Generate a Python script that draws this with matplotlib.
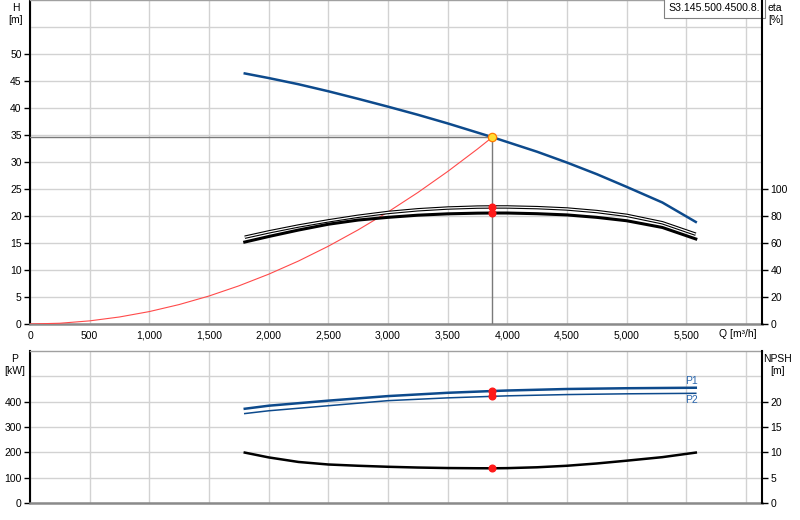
import matplotlib
matplotlib.use('Agg')
import matplotlib.pyplot as plt
from matplotlib.ticker import FuncFormatter, FixedLocator

plt.rcParams['font.family'] = ['Liberation Sans', 'DejaVu Sans']
plt.rcParams['font.size'] = 7.5

# ---------------- data ----------------
q = [1800, 2000, 2250, 2500, 2750, 3000, 3250, 3500, 3750, 3875, 4000, 4250, 4500, 4750, 5000, 5300, 5580]
head = [46.4, 45.55, 44.4, 43.1, 41.7, 40.25, 38.75, 37.15, 35.45, 34.6, 33.7, 31.9, 29.9, 27.75, 25.4, 22.5, 18.9]
eta_upper = [64.3, 68.2, 72.6, 76.4, 79.8, 82.6, 84.6, 85.9, 86.6, 86.7, 86.7, 86.2, 85.2, 83.3, 80.5, 75.0, 66.5]
eta_lower = [60.7, 64.8, 69.6, 73.9, 77.0, 79.0, 80.6, 81.6, 82.1, 82.2, 82.2, 81.7, 80.8, 79.0, 76.5, 71.5, 63.0]
npsh = [9.95, 9.0, 8.1, 7.6, 7.35, 7.15, 7.0, 6.9, 6.86, 6.85, 6.88, 7.05, 7.35, 7.8, 8.35, 9.05, 9.95]

q_p = [1800, 2000, 2500, 3000, 3500, 3875, 4000, 4500, 5000, 5580]
p1 = [372, 384, 404, 422, 435, 442, 444, 450, 453, 455]
p2 = [353, 364, 384, 404, 415, 421, 423, 428, 431, 433]

q_sys = [0, 250, 500, 750, 1000, 1250, 1500, 1750, 2000, 2250, 2500, 2750, 3000, 3250, 3500, 3750, 3875]
h_sys = [0, 0.14, 0.58, 1.30, 2.30, 3.60, 5.18, 7.06, 9.22, 11.66, 14.40, 17.43, 20.74, 24.34, 28.23, 32.40, 34.6]

duty_q = 3875
duty_h = 34.6
duty_eta = [86.7, 82.2]
duty_p = [442, 421]
duty_npsh = 6.85

x_ticks = [0, 500, 1000, 1500, 2000, 2500, 3000, 3500, 4000, 4500, 5000, 5500]
h_ticks = [0, 5, 10, 15, 20, 25, 30, 35, 40, 45, 50]
eta_ticks = [0, 20, 40, 60, 80, 100]
p_ticks = [0, 100, 200, 300, 400]
npsh_ticks = [0, 5, 10, 15, 20]
title_box = "S3.145.500.4500.8."

# ---------------- style ----------------
BLUE = '#0d4a8c'
LBLUE = '#2a66ad'
GRID = '#d2d2d2'
GRAYSP = '#8a8a8a'
XMAX = 6135

fig = plt.figure(figsize=(8, 5.2), dpi=100)
W, H = 800, 520
ax = fig.add_axes([30 / W, (H - 324) / H, 732 / W, 324 / H])
bx = fig.add_axes([30 / W, (H - 503) / H, 732 / W, 152 / H])


def style_axes(a, top_color):
    a.set_xlim(0, XMAX)
    a.xaxis.set_major_locator(FixedLocator(x_ticks))
    a.xaxis.set_minor_locator(FixedLocator([6000]))
    a.grid(True, which='both', axis='both', color=GRID, lw=1.0, zorder=0)
    a.set_axisbelow(True)
    a.spines['left'].set_color('black')
    a.spines['left'].set_linewidth(1.5)
    a.spines['bottom'].set_color(GRAYSP)
    a.spines['bottom'].set_linewidth(1.8)
    a.spines['top'].set_color(top_color)
    a.spines['top'].set_linewidth(1.0)
    a.spines['right'].set_visible(False)
    a.tick_params(axis='y', which='major', direction='out', length=4, width=1, pad=2, colors='black')
    a.tick_params(axis='y', which='minor', length=0)
    a.tick_params(axis='x', which='both', length=0, pad=5)


# ---------------- top chart ----------------
style_axes(ax, '#a0a0a0')
ax.set_ylim(0, 60)
ax.yaxis.set_major_locator(FixedLocator(h_ticks))
ax.yaxis.set_minor_locator(FixedLocator([55]))
ax.xaxis.set_major_formatter(FuncFormatter(lambda v, p: f'{int(v):,}'))

ax.plot(q_sys, h_sys, color='#ff4a4a', lw=0.8, zorder=3)
ax.plot(q, head, color=BLUE, lw=1.8, zorder=4)
ax.plot([0, duty_q], [duty_h, duty_h], color='#7a7a7a', lw=1.0, zorder=3)
ax.plot([duty_q, duty_q], [0, duty_h], color='#7a7a7a', lw=1.0, zorder=3)
ax.plot([duty_q], [duty_h], 'o', ms=6, mfc='#ffdd33', mec='#ff7a00', mew=0.9, zorder=6)

ax2 = ax.twinx()
ax2.set_ylim(0, 240)
ax2.yaxis.set_major_locator(FixedLocator(eta_ticks))
for s in ['left', 'top', 'bottom']:
    ax2.spines[s].set_visible(False)
ax2.spines['right'].set_color('black')
ax2.spines['right'].set_linewidth(1.5)
ax2.tick_params(axis='y', direction='out', length=4, width=1, pad=2, colors='black')
ax2.plot(q, eta_upper, color='black', lw=2.5, solid_capstyle='butt', zorder=3)
ax2.plot(q, eta_upper, color='white', lw=0.9, solid_capstyle='butt', zorder=3)
ax2.plot(q, eta_lower, color='black', lw=2.2, zorder=3)
ax2.plot([duty_q, duty_q], duty_eta, 'o', ms=4.8, color='#ff1a1a', mec='#ff1a1a', zorder=5)

fig.text(16 / W, 1 - 3 / H, 'H\n[m]', ha='center', va='top', fontsize=7.5, linespacing=1.25)
fig.text(768 / W, 1 - 3 / H, 'eta\n[%]', ha='left', va='top', fontsize=7.5, linespacing=1.25)
ax.text((757 - 30) / 732, -10 / 324, 'Q [m³/h]', transform=ax.transAxes, ha='right', va='center', fontsize=7.5)
ax.text(0.9975, 0.99, title_box, transform=ax.transAxes, ha='right', va='top', fontsize=7.6, zorder=10,
        bbox=dict(boxstyle='square,pad=0.45', fc='white', ec='#808080', lw=0.8))

# ---------------- bottom chart ----------------
style_axes(bx, '#a0a0a0')
bx.set_ylim(0, 600)
bx.yaxis.set_major_locator(FixedLocator(p_ticks))
bx.yaxis.set_minor_locator(FixedLocator([500]))
bx.tick_params(axis='x', labelbottom=False)

bx.plot(q_p, p1, color=BLUE, lw=1.8, zorder=4)
bx.plot(q_p, p2, color=BLUE, lw=1.1, zorder=4)
bx.plot([duty_q, duty_q], duty_p, 'o', ms=4.8, color='#ff1a1a', mec='#ff1a1a', zorder=5)
bx.text(q_p[-1] - 40, p1[-1] + 8, 'P1', color=LBLUE, fontsize=7.5, ha='center', va='bottom')
bx.text(q_p[-1] - 40, p2[-1] - 6, 'P2', color=LBLUE, fontsize=7.5, ha='center', va='top')

bx2 = bx.twinx()
bx2.set_ylim(0, 30)
bx2.yaxis.set_major_locator(FixedLocator(npsh_ticks))
for s in ['left', 'top', 'bottom']:
    bx2.spines[s].set_visible(False)
bx2.spines['right'].set_color('black')
bx2.spines['right'].set_linewidth(1.5)
bx2.tick_params(axis='y', direction='out', length=4, width=1, pad=2, colors='black')
bx2.plot(q, npsh, color='black', lw=1.8, zorder=3)
bx2.plot([duty_q], [duty_npsh], 'o', ms=4.8, color='#ff1a1a', mec='#ff1a1a', zorder=5)

fig.text(15 / W, 1 - 354 / H, 'P\n[kW]', ha='center', va='top', fontsize=7.5, linespacing=1.25)
fig.text(778 / W, 1 - 354 / H, 'NPSH\n[m]', ha='center', va='top', fontsize=7.5, linespacing=1.25)

fig.savefig('out.png', dpi=100)
